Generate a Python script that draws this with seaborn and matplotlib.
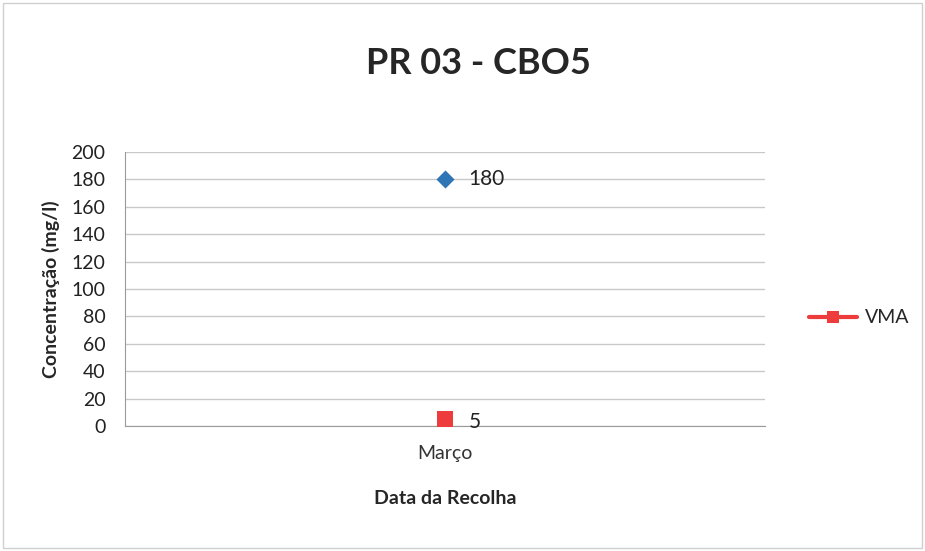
import pandas as pd
import seaborn as sns
import matplotlib.pyplot as plt
from matplotlib.patches import Rectangle

# data
categorias = ['Março']
valores_amostra = [180]
valores_vma = [5]

sns.set_style('white')
plt.rcParams['font.family'] = ['Lato', 'DejaVu Sans']

df_amostra = pd.DataFrame({'mes': categorias, 'valor': valores_amostra})
df_vma = pd.DataFrame({'mes': categorias, 'valor': valores_vma})

fig = plt.figure(figsize=(9.25, 5.51), dpi=100)
ax = fig.add_axes([0.135, 0.227, 0.692, 0.497])

sns.lineplot(data=df_vma, x='mes', y='valor', ax=ax, color='#ee3b3b', marker='s',
             markersize=11, markeredgewidth=0, linewidth=3, label='VMA', zorder=3)
sns.scatterplot(data=df_amostra, x='mes', y='valor', ax=ax, color='#2e75b6', marker='D',
                s=85, linewidth=0, zorder=3, legend=False)

for xv, yv in zip(categorias, valores_amostra):
    ax.annotate(str(yv), (xv, yv), xytext=(17, 0), textcoords='offset points',
                va='center', ha='left', fontsize=15, color='#222222')
for xv, yv in zip(categorias, valores_vma):
    ax.annotate(str(yv), (xv, yv), xytext=(17, -2), textcoords='offset points',
                va='center', ha='left', fontsize=15, color='#222222')

ax.set_xlim(-0.5, 0.5)
ax.set_ylim(0, 200)
ax.set_yticks(range(0, 201, 20))
ax.tick_params(axis='y', labelsize=14, length=0, pad=14, colors='#222222')
ax.tick_params(axis='x', labelsize=14, length=0, pad=14, colors='#333333')
ax.grid(axis='y', color='#c8c8c8', linewidth=1)
for side in ['top', 'right']:
    ax.spines[side].set_visible(False)
ax.spines['left'].set_color('#9a9a9a')
ax.spines['bottom'].set_color('#9a9a9a')

ax.set_xlabel('Data da Recolha', fontsize=14, fontweight='bold', labelpad=20)
ax.set_ylabel('Concentração (mg/l)', fontsize=14, fontweight='bold', labelpad=8)
fig.suptitle('PR 03 - CBO5', x=0.517, y=0.915, fontsize=26, fontweight='bold')

handles, labels = ax.get_legend_handles_labels()
ax.get_legend().remove()
fig.legend(handles, labels, loc='center left', bbox_to_anchor=(0.866, 0.423),
           frameon=False, fontsize=14, handlelength=2.5, handletextpad=0.4,
           borderaxespad=0, markerscale=0.75)

fig.patches.append(Rectangle((0.003, 0.005), 0.994, 0.99, transform=fig.transFigure,
                             fill=False, edgecolor='#cfcfcf', linewidth=1))

fig.savefig('out.png', dpi=100)
